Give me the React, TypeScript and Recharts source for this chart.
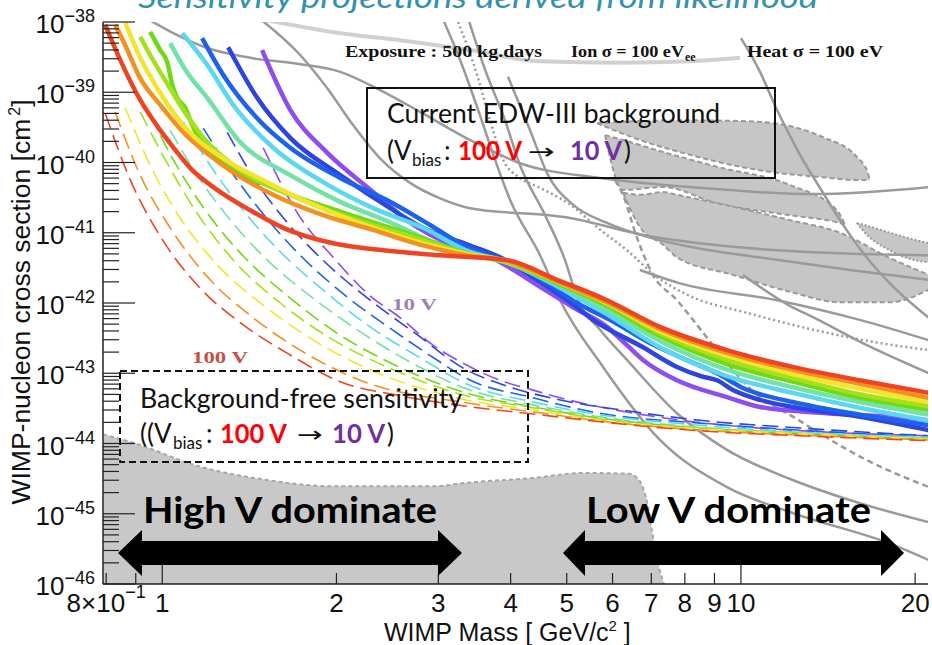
import { ComposedChart, Line, Area, XAxis, YAxis } from "recharts";

type Pt = [number, number]; // [mass GeV, log10 sigma]
type Band = [number, number, number]; // [mass, log10 low, log10 high]

// projected limits with current EDW-III background, 100 V -> 10 V
const BG_100: Pt[] = [[0.797,-38.04],[0.846,-38.54],[0.916,-39.11],[0.992,-39.54],[1.053,-39.82],[1.118,-40.08],[1.225,-40.35],[1.419,-40.68],[1.618,-40.93],[1.974,-41.15],[2.408,-41.25],[3.021,-41.32],[3.943,-41.39],[4.811,-41.67],[5.869,-41.96],[7.246,-42.34],[9.459,-42.67],[12.29,-42.91],[16.05,-43.10],[21.12,-43.28]];
const BG_90: Pt[] = [[0.829,-38.04],[0.863,-38.33],[0.916,-38.80],[0.992,-39.18],[1.087,-39.57],[1.274,-40.04],[1.555,-40.46],[1.897,-40.75],[2.314,-40.96],[2.790,-41.17],[3.350,-41.32],[3.943,-41.40],[4.811,-41.69],[5.869,-41.99],[7.246,-42.37],[9.459,-42.71],[12.29,-42.95],[16.05,-43.15],[21.12,-43.35]];
const BG_80: Pt[] = [[0.863,-38.01],[0.916,-38.51],[0.980,-38.94],[1.087,-39.47],[1.274,-39.94],[1.518,-40.28],[1.780,-40.56],[2.171,-40.85],[2.681,-41.10],[3.350,-41.30],[3.943,-41.40],[4.811,-41.69],[5.869,-42.00],[7.246,-42.40],[9.459,-42.75],[12.29,-43.01],[16.05,-43.22],[21.12,-43.41]];
const BG_70: Pt[] = [[0.916,-38.21],[0.953,-38.47],[1.012,-38.83],[1.087,-39.25],[1.187,-39.68],[1.364,-40.11],[1.664,-40.46],[2.112,-40.79],[2.681,-41.05],[3.350,-41.30],[3.943,-41.42],[4.811,-41.70],[5.869,-42.01],[7.246,-42.43],[9.459,-42.81],[12.29,-43.07],[16.05,-43.30],[21.12,-43.47]];
const BG_60: Pt[] = [[0.953,-38.14],[0.992,-38.40],[1.020,-38.57],[1.041,-38.90],[1.061,-39.08],[1.096,-39.22],[1.127,-39.47],[1.274,-39.99],[1.555,-40.36],[2.030,-40.70],[2.681,-41.02],[3.350,-41.29],[3.943,-41.42],[4.811,-41.72],[5.869,-42.04],[7.246,-42.47],[9.459,-42.87],[12.29,-43.12],[16.05,-43.35],[21.12,-43.52]];
const BG_50: Pt[] = [[1.032,-38.30],[1.096,-38.68],[1.196,-39.08],[1.364,-39.71],[1.664,-40.18],[2.030,-40.56],[2.476,-40.85],[3.021,-41.17],[3.350,-41.29],[3.943,-41.43],[4.811,-41.73],[5.869,-42.10],[7.246,-42.54],[9.459,-42.95],[12.29,-43.20],[16.05,-43.41],[21.12,-43.59]];
const BG_40: Pt[] = [[1.083,-38.16],[1.196,-38.61],[1.326,-39.18],[1.555,-39.79],[1.897,-40.28],[2.314,-40.65],[2.823,-40.93],[3.350,-41.25],[3.943,-41.42],[4.811,-41.76],[5.869,-42.16],[7.246,-42.63],[9.459,-43.04],[12.29,-43.28],[16.05,-43.49],[21.12,-43.67]];
const BG_30: Pt[] = [[1.172,-38.23],[1.274,-38.75],[1.459,-39.37],[1.664,-39.79],[2.030,-40.22],[2.476,-40.56],[2.903,-40.89],[3.350,-41.20],[3.990,-41.42],[4.587,-41.70],[5.209,-42.00],[5.939,-42.24],[6.963,-42.57],[8.264,-42.85],[9.090,-43.00],[10.08,-43.21],[12.29,-43.41],[16.05,-43.59],[21.12,-43.74]];
const BG_20: Pt[] = [[1.300,-38.36],[1.459,-39.08],[1.664,-39.65],[2.030,-40.18],[2.476,-40.65],[2.823,-40.93],[3.350,-41.16],[3.835,-41.35],[4.497,-41.70],[5.067,-41.99],[5.552,-42.24],[6.772,-42.63],[7.752,-42.91],[8.597,-43.05],[9.090,-43.10],[9.687,-43.24],[10.79,-43.38],[12.29,-43.48],[16.05,-43.62],[21.12,-43.81]];
const BG_10: Pt[] = [[1.488,-38.40],[1.664,-39.25],[1.927,-39.86],[2.259,-40.35],[2.757,-40.92],[3.350,-41.25],[3.685,-41.35],[4.497,-41.77],[5.127,-42.06],[5.869,-42.34],[6.354,-42.60],[6.772,-42.81],[7.752,-43.10],[9.459,-43.34],[10.79,-43.48],[14.08,-43.57],[18.30,-43.62],[21.12,-43.67]];

// background-free sensitivity, 100 V -> 10 V
const FREE_100: Pt[] = [[0.797,-39.30],[0.881,-40.25],[0.992,-41.05],[1.163,-41.79],[1.380,-42.31],[1.664,-42.74],[2.030,-43.12],[2.577,-43.32],[3.350,-43.47],[4.374,-43.58],[5.708,-43.69],[8.496,-43.82],[12.65,-43.89],[21.12,-43.96]];
const FREE_90: Pt[] = [[0.829,-39.28],[0.916,-40.18],[1.032,-40.93],[1.210,-41.67],[1.436,-42.21],[1.731,-42.67],[2.198,-43.10],[3.350,-43.42],[4.374,-43.55],[5.708,-43.68],[8.496,-43.81],[12.65,-43.88],[21.12,-43.95]];
const FREE_80: Pt[] = [[0.863,-39.22],[0.953,-40.04],[1.074,-40.79],[1.259,-41.50],[1.494,-42.03],[1.801,-42.50],[2.287,-42.95],[3.350,-43.38],[4.374,-43.52],[5.708,-43.67],[8.496,-43.79],[12.65,-43.86],[21.12,-43.94]];
const FREE_70: Pt[] = [[0.916,-39.28],[1.012,-39.96],[1.140,-40.68],[1.337,-41.42],[1.599,-42.00],[1.951,-42.50],[2.476,-42.93],[3.350,-43.32],[4.374,-43.49],[5.708,-43.65],[8.496,-43.78],[12.65,-43.86],[21.12,-43.94]];
const FREE_60: Pt[] = [[0.953,-39.32],[1.053,-40.01],[1.187,-40.68],[1.391,-41.36],[1.664,-41.93],[2.005,-42.43],[2.476,-42.85],[3.350,-43.28],[4.374,-43.48],[5.708,-43.64],[8.496,-43.78],[12.65,-43.86],[21.12,-43.94]];
const FREE_50: Pt[] = [[1.032,-39.54],[1.140,-40.14],[1.285,-40.73],[1.506,-41.36],[1.801,-41.90],[2.171,-42.38],[2.681,-42.84],[3.350,-43.22],[4.374,-43.45],[5.708,-43.62],[8.496,-43.77],[12.65,-43.85],[21.12,-43.92]];
const FREE_40: Pt[] = [[1.087,-39.42],[1.210,-40.04],[1.364,-40.63],[1.599,-41.27],[1.912,-41.84],[2.305,-42.36],[2.790,-42.78],[3.350,-43.15],[4.374,-43.41],[5.708,-43.59],[8.496,-43.74],[12.65,-43.84],[21.12,-43.91]];
const FREE_30: Pt[] = [[1.177,-39.51],[1.311,-40.11],[1.476,-40.68],[1.731,-41.32],[2.070,-41.89],[2.496,-42.38],[3.021,-42.84],[3.350,-43.07],[4.374,-43.35],[5.708,-43.57],[8.496,-43.71],[12.65,-43.81],[21.12,-43.91]];
const FREE_20: Pt[] = [[1.295,-39.57],[1.447,-40.25],[1.631,-40.82],[1.912,-41.42],[2.287,-41.96],[2.735,-42.43],[3.350,-42.95],[3.835,-43.15],[4.869,-43.38],[6.180,-43.52],[8.496,-43.67],[12.65,-43.78],[21.12,-43.89]];
const FREE_10: Pt[] = [[1.494,-39.79],[1.731,-40.78],[1.974,-41.35],[2.259,-41.86],[2.577,-42.21],[2.938,-42.60],[3.350,-42.88],[3.835,-43.10],[4.374,-43.24],[4.869,-43.35],[5.708,-43.48],[7.421,-43.64],[9.687,-43.75],[14.25,-43.84],[21.12,-43.89]];

// other experiments (grey)
const EXP_LIGHT: Pt[] = [[1.506,-37.97],[2.030,-38.16],[2.577,-38.26],[3.404,-38.40],[4.497,-38.56],[6.180,-38.58],[8.164,-38.56],[9.961,-38.51]];
const EXP_A: Pt[] = [[0.935,-37.94],[1.196,-38.37],[1.419,-38.51],[1.731,-38.60],[2.030,-38.71],[2.379,-38.97],[2.790,-39.28],[3.404,-39.68],[4.152,-40.01],[5.708,-40.22],[8.496,-40.36],[13.32,-40.45],[21.12,-40.35]];
const EXP_B: Pt[] = [[1.447,-37.90],[1.731,-38.47],[1.927,-38.94],[2.138,-39.47],[2.379,-39.94],[2.681,-40.29],[3.021,-40.51],[3.404,-40.65],[4.986,-40.78],[6.963,-41.05],[9.687,-41.20],[14.42,-41.29],[21.12,-41.32]];
const EXP_C: Pt[] = [[3.959,-38.78],[4.321,-39.54],[4.642,-40.18],[5.127,-40.60],[5.869,-40.86],[6.963,-41.07],[8.164,-41.20],[11.68,-41.39],[15.43,-41.53],[21.12,-41.67]];
const EXP_D: Pt[] = [[3.033,-37.90],[3.272,-38.54],[3.514,-39.25],[3.759,-39.96],[3.990,-40.53],[4.497,-41.32],[4.869,-41.96],[5.777,-42.91],[7.246,-43.95],[9.459,-44.62],[12.29,-44.99],[18.30,-45.44],[21.12,-45.66]];
const EXP_E: Pt[] = [[3.364,-37.90],[3.613,-38.68],[3.912,-39.40],[4.152,-40.04],[4.587,-40.75],[4.966,-41.39],[5.230,-41.96],[5.708,-42.38],[6.354,-42.81],[7.752,-43.57],[9.459,-44.09],[12.29,-44.52],[16.05,-44.85],[21.12,-45.12]];
const EXP_F: Pt[] = [[10.0,-38.23],[10.79,-38.71],[11.54,-39.25],[12.65,-39.89],[13.86,-40.43],[14.83,-40.82],[16.38,-41.32],[18.09,-41.72],[21.12,-42.21]];
const EXP_G: Pt[] = [[10.08,-41.60],[12.15,-42.04],[13.32,-42.20],[16.51,-42.60],[21.12,-43.00]];
const EXP_H: Pt[] = [[6.691,-41.53],[7.844,-41.72],[11.54,-41.96],[16.05,-42.24],[21.12,-42.53]];
const EXP_DOTTED: Pt[] = [[3.245,-38.00],[3.499,-38.75],[3.685,-39.40],[3.881,-39.96],[4.152,-40.22],[4.497,-40.36],[5.127,-40.63],[5.640,-40.92],[6.354,-41.25],[7.160,-41.63],[8.164,-41.90],[10.24,-42.14],[13.32,-42.38],[17.38,-42.57],[21.12,-42.67]];
const EXP_DASHED: Pt[] = [[6.058,-40.25],[6.254,-40.46],[6.587,-41.03],[7.047,-41.60],[7.752,-41.96],[8.264,-42.24],[9.162,-42.71],[10.32,-43.20],[12.60,-43.67],[16.44,-44.23],[21.12,-44.62]];

// signal contours
const BLOB_TOP: Band[] = [[5.640,-39.44,-39.44],[6.691,-39.68,-39.41],[8.164,-39.89,-39.40],[9.961,-40.06,-39.41],[11.36,-40.14,-39.44],[13.86,-40.21,-39.64],[15.86,-40.25,-39.92],[16.57,-40.25,-40.15],[16.70,-40.25,-40.25]];
const BLOB_MID: Band[] = [[5.823,-39.61,-39.61],[6.254,-40.39,-39.68],[7.333,-40.35,-39.85],[9.090,-40.58,-40.06],[12.15,-40.75,-40.32],[14.65,-40.85,-40.68],[15.12,-40.88,-40.88]];
const BLOB_LOW: Band[] = [[6.254,-40.43,-40.43],[6.691,-40.92,-40.46],[7.333,-41.17,-40.42],[7.752,-41.35,-40.46],[9.687,-41.60,-40.63],[12.15,-41.84,-40.82],[14.83,-41.99,-41.00],[18.09,-41.99,-41.36],[21.12,-41.81,-41.60]];
const BLOB_RIGHT: Band[] = [[15.86,-40.86,-40.86],[16.51,-41.03,-40.90],[18.09,-41.25,-41.00],[19.35,-41.36,-41.07],[21.12,-41.42,-41.15]];

// neutrino floor top edge
const NU_FLOOR: Pt[] = [[0.791,-43.87],[0.891,-43.99],[1.163,-44.33],[1.518,-44.52],[1.974,-44.61],[2.938,-44.61],[3.350,-44.56],[4.374,-44.49],[5.335,-44.42],[6.407,-44.43],[6.666,-44.52],[6.910,-44.90],[7.047,-45.33],[7.217,-45.76],[7.362,-46.0]];

const BG_CURVES = [BG_100, BG_90, BG_80, BG_70, BG_60, BG_50, BG_40, BG_30, BG_20, BG_10];
const FREE_CURVES = [FREE_100, FREE_90, FREE_80, FREE_70, FREE_60, FREE_50, FREE_40, FREE_30, FREE_20, FREE_10];
const COLORS = ["#ee4423", "#f39020", "#f2e52a", "#a4e01c", "#6cdb16", "#72e2a6", "#5ad8f0", "#1c62ee", "#2e44df", "#8d4df0"];
const GREY = [EXP_A, EXP_B, EXP_C, EXP_D, EXP_E, EXP_F, EXP_G, EXP_H];

const X_TICKS = [0.8, 0.9, 1, 2, 3, 4, 5, 6, 7, 8, 9, 10, 20];
const X_LABELED = [1, 2, 3, 4, 5, 6, 7, 8, 9, 10, 20];
const Y_DECADES = [-46, -45, -44, -43, -42, -41, -40, -39, -38];
const Y_MINOR = [2, 3, 4, 5, 6, 7, 8, 9];
const Y_TICKS = Y_DECADES.flatMap((d) => (d === -38 ? [10 ** d] : [10 ** d, ...Y_MINOR.map((k) => k * 10 ** d)]));

const W = 932;
const H = 645;
const PL = 103;
const PR = 928;
const PT = 22;
const PB = 584;
const SANS = "'Liberation Sans', Arial, sans-serif";
const SERIF = "'Liberation Serif', 'Times New Roman', serif";
const CAL = "Lato, 'Open Sans', sans-serif";

const pts = (a: Pt[]) => a.map(([m, e]) => ({ m, s: 10 ** e }));
const band = (a: Band[]) => a.map(([m, lo, hi]) => ({ m, r: [10 ** lo, 10 ** hi] }));
const floor = (a: Pt[]) => a.map(([m, e]) => ({ m, r: [1e-46, 10 ** e] }));
const isDecade = (v: number) => Math.abs(Math.log10(v) - Math.round(Math.log10(v))) < 1e-6;

function LeftTick(p: any) {
  const v = p.payload.value;
  const major = isDecade(v);
  const y = p.y;
  return (
    <g>
      <line x1={PL} x2={PL + (major ? 32 : 16)} y1={y} y2={y} stroke="#222" strokeWidth={1.2} />
      {major && (
        <text x={95} y={y + 11} textAnchor="end" fontFamily={SANS} fontSize={26} fill="#111">
          10<tspan dy={-11} fontSize={18}>{"\u2212" + Math.abs(Math.round(Math.log10(v)))}</tspan>
        </text>
      )}
    </g>
  );
}

function RightTick(p: any) {
  const major = isDecade(p.payload.value);
  return <line x1={PR} x2={PR - (major ? 34 : 17)} y1={p.y} y2={p.y} stroke="#222" strokeWidth={1.2} />;
}

function BottomTick(p: any) {
  const v = p.payload.value;
  const x = p.x;
  const major = v === 1 || v === 10;
  return (
    <g>
      <line x1={x} x2={x} y1={PB} y2={PB - (major ? 19 : 11)} stroke="#222" strokeWidth={1.2} />
      {X_LABELED.includes(v) && (
        <text x={x} y={612} textAnchor="middle" fontFamily={SANS} fontSize={26} fill="#111">{String(v)}</text>
      )}
      {v === 0.8 && (
        <text x={x} y={612} textAnchor="middle" fontFamily={SANS} fontSize={26} fill="#111">
          8×10<tspan dy={-14} fontSize={18}>{"\u22121"}</tspan>
        </text>
      )}
    </g>
  );
}

function TopTick(p: any) {
  const v = p.payload.value;
  const major = v === 1 || v === 10;
  return <line x1={p.x} x2={p.x} y1={PT} y2={PT + (major ? 23 : 11)} stroke="#222" strokeWidth={1.2} />;
}

function BiasLine({ x, y, first, sub, colon, a, arrow, b, close }: any) {
  return (
    <g fontFamily={CAL} fontSize={26} fill="#111">
      <text x={x} y={y}>{first}</text>
      <text x={sub} y={y + 6} fontSize={17}>bias</text>
      <text x={colon} y={y}>:</text>
      <text x={a[0]} y={y} fontWeight="bold" fill="#ff0000" textLength={a[1]} lengthAdjust="spacingAndGlyphs">100 V</text>
      <text x={arrow[0]} y={y - 1} fontFamily="'DejaVu Sans', sans-serif" fontSize={22} textLength={arrow[1]} lengthAdjust="spacingAndGlyphs">→</text>
      <text x={b[0]} y={y} fontWeight="bold" fill="#7030a0" textLength={b[1]} lengthAdjust="spacingAndGlyphs">10 V</text>
      <text x={close} y={y}>)</text>
    </g>
  );
}

export default function App() {
  const axisStroke = { stroke: "#222", strokeWidth: 1.5 };
  const order = [9, 8, 7, 6, 5, 4, 3, 2, 1, 0];
  return (
    <div style={{ position: "absolute", left: 0, top: 0, width: W, height: H, background: "#fff" }}>
      <ComposedChart width={W} height={H} margin={{ top: PT, right: W - PR, bottom: 0, left: 0 }}>
        <XAxis dataKey="m" type="number" scale="log" domain={[0.79, 21.05]} allowDataOverflow ticks={X_TICKS} interval={0}
          height={H - PB} tickLine={false} axisLine={axisStroke} tick={(p: any) => <BottomTick {...p} />} />
        <XAxis xAxisId="t" orientation="top" dataKey="m" type="number" scale="log" domain={[0.79, 21.05]} allowDataOverflow
          ticks={X_TICKS} interval={0} height={0} tickLine={false} axisLine={axisStroke} tick={(p: any) => <TopTick {...p} />} />
        <YAxis type="number" scale="log" domain={[1e-46, 1e-38]} allowDataOverflow ticks={Y_TICKS} interval={0}
          width={PL} tickLine={false} axisLine={axisStroke} tick={(p: any) => <LeftTick {...p} />} />
        <YAxis yAxisId="r" orientation="right" type="number" scale="log" domain={[1e-46, 1e-38]} allowDataOverflow
          ticks={Y_TICKS} interval={0} width={0} tickLine={false} axisLine={axisStroke} tick={(p: any) => <RightTick {...p} />} />

        <Area data={floor(NU_FLOOR)} dataKey="r" type="monotone" fill="#c8c8c8" fillOpacity={1} stroke="#a6a6a6"
          strokeWidth={2} strokeDasharray="4 3" dot={false} activeDot={false} isAnimationActive={false} />
        {[BLOB_TOP, BLOB_MID, BLOB_LOW].map((b, i) => (
          <Area key={"b" + i} data={band(b)} dataKey="r" type="monotone" fill="#c6c6c6" fillOpacity={1} stroke="#999"
            strokeWidth={2} strokeDasharray="5 3" dot={false} activeDot={false} isAnimationActive={false} />
        ))}
        <Area data={band(BLOB_RIGHT)} dataKey="r" type="monotone" fill="#c6c6c6" fillOpacity={1} stroke="#999"
          strokeWidth={2} strokeDasharray="2 2" dot={false} activeDot={false} isAnimationActive={false} />

        <Line data={pts(EXP_LIGHT)} dataKey="s" type="monotone" stroke="#d0d0d0" strokeWidth={4} dot={false} activeDot={false} isAnimationActive={false} />
        {GREY.map((g, i) => (
          <Line key={"g" + i} data={pts(g)} dataKey="s" type="monotone" stroke="#9a9a9a" strokeWidth={2.5}
            dot={false} activeDot={false} isAnimationActive={false} />
        ))}
        <Line data={pts(EXP_DOTTED)} dataKey="s" type="monotone" stroke="#9a9a9a" strokeWidth={2.5} strokeDasharray="2 3"
          dot={false} activeDot={false} isAnimationActive={false} />
        <Line data={pts(EXP_DASHED)} dataKey="s" type="monotone" stroke="#9a9a9a" strokeWidth={2.5} strokeDasharray="6 4"
          dot={false} activeDot={false} isAnimationActive={false} />

        {order.map((i) => (
          <Line key={"f" + i} data={pts(FREE_CURVES[i])} dataKey="s" type="monotone" stroke={COLORS[i]} strokeWidth={1.6}
            strokeDasharray="16 7" dot={false} activeDot={false} isAnimationActive={false} />
        ))}
        {order.map((i) => (
          <Line key={"s" + i} data={pts(BG_CURVES[i])} dataKey="s" type="monotone" stroke={COLORS[i]} strokeWidth={4.5}
            dot={false} activeDot={false} isAnimationActive={false} />
        ))}
      </ComposedChart>

      <svg width={W} height={H} style={{ position: "absolute", left: 0, top: 0, pointerEvents: "none" }}>
        <text x={478} y={8} textAnchor="middle" fontFamily={CAL} fontStyle="italic" fontSize={30} fill="#3592ad"
          textLength={680} lengthAdjust="spacingAndGlyphs">Sensitivity projections derived from likelihood</text>

        <g fontFamily={SERIF} fontWeight="bold" fontSize={17} fill="#111">
          <text x={345} y={57} textLength={197} lengthAdjust="spacingAndGlyphs">Exposure : 500 kg.days</text>
          <text x={571} y={57} textLength={113} lengthAdjust="spacingAndGlyphs">Ion σ = 100 eV</text>
          <text x={685} y={61} fontSize={12}>ee</text>
          <text x={747} y={57} textLength={136} lengthAdjust="spacingAndGlyphs">Heat σ = 100 eV</text>
        </g>

        <rect x={367} y={88} width={408} height={90} fill="none" stroke="#111" strokeWidth={2} />
        <text x={387} y={123} fontFamily={CAL} fontSize={26} fill="#111" textLength={333} lengthAdjust="spacingAndGlyphs">Current EDW-III background</text>
        <BiasLine x={387} y={160} first="(V" sub={412} colon={444} a={[458, 64]} arrow={[528, 27]} b={[570, 52]} close={624} />

        <rect x={120} y={371} width={408} height={91} fill="none" stroke="#111" strokeWidth={2} strokeDasharray="7 4" />
        <text x={140} y={408} fontFamily={CAL} fontSize={26} fill="#111" textLength={322} lengthAdjust="spacingAndGlyphs">Background-free sensitivity</text>
        <BiasLine x={140} y={443} first="((V" sub={173} colon={206} a={[220, 67]} arrow={[297, 26]} b={[332, 53]} close={387} />

        <text x={192} y={363} fontFamily={SERIF} fontWeight="bold" fontSize={17} fill="#c4524a" textLength={56} lengthAdjust="spacingAndGlyphs">100 V</text>
        <text x={392} y={310} fontFamily={SERIF} fontWeight="bold" fontSize={17} fill="#9d80b6" textLength={45} lengthAdjust="spacingAndGlyphs">10 V</text>

        <text x={143} y={523} fontFamily={CAL} fontWeight="bold" fontSize={37} fill="#000" textLength={294} lengthAdjust="spacingAndGlyphs">High V dominate</text>
        <text x={586} y={523} fontFamily={CAL} fontWeight="bold" fontSize={37} fill="#000" textLength={285} lengthAdjust="spacingAndGlyphs">Low V dominate</text>
        <polygon points="118,553 142,530 142,541 438,541 438,530 462,553 438,576 438,565 142,565 142,576" fill="#000" />
        <polygon points="563,553 585,530 585,541 881,541 881,530 904,553 881,576 881,565 585,565 585,576" fill="#000" />

        <text x={384} y={641} fontFamily={SANS} fontSize={25} fill="#111">
          WIMP Mass [ GeV/c<tspan dy={-10} fontSize={15}>2</tspan><tspan dy={10}> ]</tspan>
        </text>
        <text x={30} y={302} transform="rotate(-90 30 302)" textAnchor="middle" fontFamily={SANS} fontSize={26.5} fill="#111">
          WIMP-nucleon cross section [cm<tspan dy={-10} dx={3} fontSize={16}>2</tspan><tspan dy={10}>]</tspan>
        </text>
      </svg>
    </div>
  );
}
